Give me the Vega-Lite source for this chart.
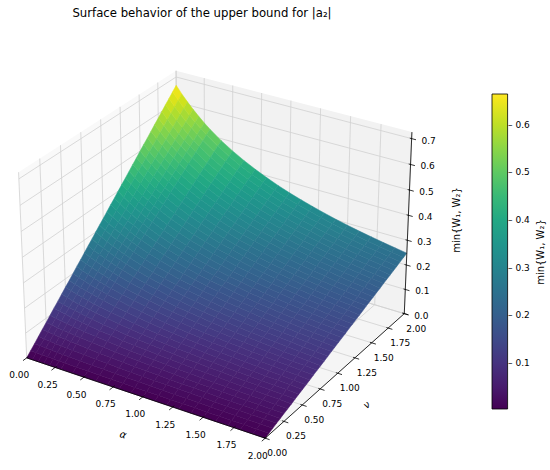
{
  "$schema": "https://vega.github.io/schema/vega-lite/v6.json",
  "description": "3D surface of min{W1,W2} over alpha and nu, drawn as projected polygons",
  "autosize": {"type": "none"},
  "padding": {"left": 0, "right": 0, "top": 28, "bottom": 0},
  "width": 550,
  "height": 442,
  "background": "white",
  "title": {
    "text": "Surface behavior of the upper bound for |a₂|",
    "font": "DejaVu Sans",
    "fontSize": 11.7,
    "fontWeight": "normal",
    "color": "black",
    "anchor": "middle",
    "dx": -73,
    "offset": 8
  },
  "datasets": {
    "surf": [
{"a":0,"n":0,"z":0},{"a":0,"n":0.05,"z":0.017},{"a":0,"n":0.1,"z":0.033},{"a":0,"n":0.15,"z":0.050},{"a":0,"n":0.2,"z":0.067},{"a":0,"n":0.25,"z":0.083},{"a":0,"n":0.3,"z":0.100},{"a":0,"n":0.35,"z":0.117},{"a":0,"n":0.4,"z":0.133},{"a":0,"n":0.45,"z":0.150},{"a":0,"n":0.5,"z":0.167},{"a":0,"n":0.55,"z":0.183},{"a":0,"n":0.6,"z":0.200},{"a":0,"n":0.65,"z":0.217},{"a":0,"n":0.7,"z":0.233},{"a":0,"n":0.75,"z":0.250},{"a":0,"n":0.8,"z":0.267},{"a":0,"n":0.85,"z":0.283},{"a":0,"n":0.9,"z":0.300},{"a":0,"n":0.95,"z":0.317},{"a":0,"n":1,"z":0.333},{"a":0,"n":1.05,"z":0.350},{"a":0,"n":1.1,"z":0.367},{"a":0,"n":1.15,"z":0.383},{"a":0,"n":1.2,"z":0.400},{"a":0,"n":1.25,"z":0.417},{"a":0,"n":1.3,"z":0.433},{"a":0,"n":1.35,"z":0.450},{"a":0,"n":1.4,"z":0.467},{"a":0,"n":1.45,"z":0.483},{"a":0,"n":1.5,"z":0.500},{"a":0,"n":1.55,"z":0.517},{"a":0,"n":1.6,"z":0.533},{"a":0,"n":1.65,"z":0.550},{"a":0,"n":1.7,"z":0.567},{"a":0,"n":1.75,"z":0.583},{"a":0,"n":1.8,"z":0.600},{"a":0,"n":1.85,"z":0.617},{"a":0,"n":1.9,"z":0.633},{"a":0,"n":1.95,"z":0.650},{"a":0,"n":2,"z":0.667},
{"a":0.05,"n":0,"z":0},{"a":0.05,"n":0.05,"z":0.016},{"a":0.05,"n":0.1,"z":0.032},{"a":0.05,"n":0.15,"z":0.048},{"a":0.05,"n":0.2,"z":0.064},{"a":0.05,"n":0.25,"z":0.080},{"a":0.05,"n":0.3,"z":0.096},{"a":0.05,"n":0.35,"z":0.112},{"a":0.05,"n":0.4,"z":0.128},{"a":0.05,"n":0.45,"z":0.144},{"a":0.05,"n":0.5,"z":0.160},{"a":0.05,"n":0.55,"z":0.175},{"a":0.05,"n":0.6,"z":0.191},{"a":0.05,"n":0.65,"z":0.207},{"a":0.05,"n":0.7,"z":0.223},{"a":0.05,"n":0.75,"z":0.239},{"a":0.05,"n":0.8,"z":0.255},{"a":0.05,"n":0.85,"z":0.271},{"a":0.05,"n":0.9,"z":0.287},{"a":0.05,"n":0.95,"z":0.303},{"a":0.05,"n":1,"z":0.319},{"a":0.05,"n":1.05,"z":0.335},{"a":0.05,"n":1.1,"z":0.351},{"a":0.05,"n":1.15,"z":0.367},{"a":0.05,"n":1.2,"z":0.383},{"a":0.05,"n":1.25,"z":0.399},{"a":0.05,"n":1.3,"z":0.415},{"a":0.05,"n":1.35,"z":0.431},{"a":0.05,"n":1.4,"z":0.447},{"a":0.05,"n":1.45,"z":0.463},{"a":0.05,"n":1.5,"z":0.479},{"a":0.05,"n":1.55,"z":0.494},{"a":0.05,"n":1.6,"z":0.510},{"a":0.05,"n":1.65,"z":0.526},{"a":0.05,"n":1.7,"z":0.542},{"a":0.05,"n":1.75,"z":0.558},{"a":0.05,"n":1.8,"z":0.574},{"a":0.05,"n":1.85,"z":0.590},{"a":0.05,"n":1.9,"z":0.606},{"a":0.05,"n":1.95,"z":0.622},{"a":0.05,"n":2,"z":0.638},
{"a":0.1,"n":0,"z":0},{"a":0.1,"n":0.05,"z":0.015},{"a":0.1,"n":0.1,"z":0.031},{"a":0.1,"n":0.15,"z":0.046},{"a":0.1,"n":0.2,"z":0.061},{"a":0.1,"n":0.25,"z":0.076},{"a":0.1,"n":0.3,"z":0.092},{"a":0.1,"n":0.35,"z":0.107},{"a":0.1,"n":0.4,"z":0.122},{"a":0.1,"n":0.45,"z":0.138},{"a":0.1,"n":0.5,"z":0.153},{"a":0.1,"n":0.55,"z":0.168},{"a":0.1,"n":0.6,"z":0.184},{"a":0.1,"n":0.65,"z":0.199},{"a":0.1,"n":0.7,"z":0.214},{"a":0.1,"n":0.75,"z":0.229},{"a":0.1,"n":0.8,"z":0.245},{"a":0.1,"n":0.85,"z":0.260},{"a":0.1,"n":0.9,"z":0.275},{"a":0.1,"n":0.95,"z":0.291},{"a":0.1,"n":1,"z":0.306},{"a":0.1,"n":1.05,"z":0.321},{"a":0.1,"n":1.1,"z":0.336},{"a":0.1,"n":1.15,"z":0.352},{"a":0.1,"n":1.2,"z":0.367},{"a":0.1,"n":1.25,"z":0.382},{"a":0.1,"n":1.3,"z":0.398},{"a":0.1,"n":1.35,"z":0.413},{"a":0.1,"n":1.4,"z":0.428},{"a":0.1,"n":1.45,"z":0.444},{"a":0.1,"n":1.5,"z":0.459},{"a":0.1,"n":1.55,"z":0.474},{"a":0.1,"n":1.6,"z":0.489},{"a":0.1,"n":1.65,"z":0.505},{"a":0.1,"n":1.7,"z":0.520},{"a":0.1,"n":1.75,"z":0.535},{"a":0.1,"n":1.8,"z":0.551},{"a":0.1,"n":1.85,"z":0.566},{"a":0.1,"n":1.9,"z":0.581},{"a":0.1,"n":1.95,"z":0.597},{"a":0.1,"n":2,"z":0.612},
{"a":0.15,"n":0,"z":0},{"a":0.15,"n":0.05,"z":0.015},{"a":0.15,"n":0.1,"z":0.029},{"a":0.15,"n":0.15,"z":0.044},{"a":0.15,"n":0.2,"z":0.059},{"a":0.15,"n":0.25,"z":0.073},{"a":0.15,"n":0.3,"z":0.088},{"a":0.15,"n":0.35,"z":0.103},{"a":0.15,"n":0.4,"z":0.118},{"a":0.15,"n":0.45,"z":0.132},{"a":0.15,"n":0.5,"z":0.147},{"a":0.15,"n":0.55,"z":0.162},{"a":0.15,"n":0.6,"z":0.176},{"a":0.15,"n":0.65,"z":0.191},{"a":0.15,"n":0.7,"z":0.206},{"a":0.15,"n":0.75,"z":0.220},{"a":0.15,"n":0.8,"z":0.235},{"a":0.15,"n":0.85,"z":0.250},{"a":0.15,"n":0.9,"z":0.265},{"a":0.15,"n":0.95,"z":0.279},{"a":0.15,"n":1,"z":0.294},{"a":0.15,"n":1.05,"z":0.309},{"a":0.15,"n":1.1,"z":0.323},{"a":0.15,"n":1.15,"z":0.338},{"a":0.15,"n":1.2,"z":0.353},{"a":0.15,"n":1.25,"z":0.367},{"a":0.15,"n":1.3,"z":0.382},{"a":0.15,"n":1.35,"z":0.397},{"a":0.15,"n":1.4,"z":0.412},{"a":0.15,"n":1.45,"z":0.426},{"a":0.15,"n":1.5,"z":0.441},{"a":0.15,"n":1.55,"z":0.456},{"a":0.15,"n":1.6,"z":0.470},{"a":0.15,"n":1.65,"z":0.485},{"a":0.15,"n":1.7,"z":0.500},{"a":0.15,"n":1.75,"z":0.514},{"a":0.15,"n":1.8,"z":0.529},{"a":0.15,"n":1.85,"z":0.544},{"a":0.15,"n":1.9,"z":0.558},{"a":0.15,"n":1.95,"z":0.573},{"a":0.15,"n":2,"z":0.588},
{"a":0.2,"n":0,"z":0},{"a":0.2,"n":0.05,"z":0.014},{"a":0.2,"n":0.1,"z":0.028},{"a":0.2,"n":0.15,"z":0.042},{"a":0.2,"n":0.2,"z":0.057},{"a":0.2,"n":0.25,"z":0.071},{"a":0.2,"n":0.3,"z":0.085},{"a":0.2,"n":0.35,"z":0.099},{"a":0.2,"n":0.4,"z":0.113},{"a":0.2,"n":0.45,"z":0.127},{"a":0.2,"n":0.5,"z":0.141},{"a":0.2,"n":0.55,"z":0.156},{"a":0.2,"n":0.6,"z":0.170},{"a":0.2,"n":0.65,"z":0.184},{"a":0.2,"n":0.7,"z":0.198},{"a":0.2,"n":0.75,"z":0.212},{"a":0.2,"n":0.8,"z":0.226},{"a":0.2,"n":0.85,"z":0.240},{"a":0.2,"n":0.9,"z":0.255},{"a":0.2,"n":0.95,"z":0.269},{"a":0.2,"n":1,"z":0.283},{"a":0.2,"n":1.05,"z":0.297},{"a":0.2,"n":1.1,"z":0.311},{"a":0.2,"n":1.15,"z":0.325},{"a":0.2,"n":1.2,"z":0.339},{"a":0.2,"n":1.25,"z":0.354},{"a":0.2,"n":1.3,"z":0.368},{"a":0.2,"n":1.35,"z":0.382},{"a":0.2,"n":1.4,"z":0.396},{"a":0.2,"n":1.45,"z":0.410},{"a":0.2,"n":1.5,"z":0.424},{"a":0.2,"n":1.55,"z":0.438},{"a":0.2,"n":1.6,"z":0.453},{"a":0.2,"n":1.65,"z":0.467},{"a":0.2,"n":1.7,"z":0.481},{"a":0.2,"n":1.75,"z":0.495},{"a":0.2,"n":1.8,"z":0.509},{"a":0.2,"n":1.85,"z":0.523},{"a":0.2,"n":1.9,"z":0.538},{"a":0.2,"n":1.95,"z":0.552},{"a":0.2,"n":2,"z":0.566},
{"a":0.25,"n":0,"z":0},{"a":0.25,"n":0.05,"z":0.014},{"a":0.25,"n":0.1,"z":0.027},{"a":0.25,"n":0.15,"z":0.041},{"a":0.25,"n":0.2,"z":0.055},{"a":0.25,"n":0.25,"z":0.068},{"a":0.25,"n":0.3,"z":0.082},{"a":0.25,"n":0.35,"z":0.095},{"a":0.25,"n":0.4,"z":0.109},{"a":0.25,"n":0.45,"z":0.123},{"a":0.25,"n":0.5,"z":0.136},{"a":0.25,"n":0.55,"z":0.150},{"a":0.25,"n":0.6,"z":0.164},{"a":0.25,"n":0.65,"z":0.177},{"a":0.25,"n":0.7,"z":0.191},{"a":0.25,"n":0.75,"z":0.205},{"a":0.25,"n":0.8,"z":0.218},{"a":0.25,"n":0.85,"z":0.232},{"a":0.25,"n":0.9,"z":0.245},{"a":0.25,"n":0.95,"z":0.259},{"a":0.25,"n":1,"z":0.273},{"a":0.25,"n":1.05,"z":0.286},{"a":0.25,"n":1.1,"z":0.300},{"a":0.25,"n":1.15,"z":0.314},{"a":0.25,"n":1.2,"z":0.327},{"a":0.25,"n":1.25,"z":0.341},{"a":0.25,"n":1.3,"z":0.354},{"a":0.25,"n":1.35,"z":0.368},{"a":0.25,"n":1.4,"z":0.382},{"a":0.25,"n":1.45,"z":0.395},{"a":0.25,"n":1.5,"z":0.409},{"a":0.25,"n":1.55,"z":0.423},{"a":0.25,"n":1.6,"z":0.436},{"a":0.25,"n":1.65,"z":0.450},{"a":0.25,"n":1.7,"z":0.464},{"a":0.25,"n":1.75,"z":0.477},{"a":0.25,"n":1.8,"z":0.491},{"a":0.25,"n":1.85,"z":0.504},{"a":0.25,"n":1.9,"z":0.518},{"a":0.25,"n":1.95,"z":0.532},{"a":0.25,"n":2,"z":0.545},
{"a":0.3,"n":0,"z":0},{"a":0.3,"n":0.05,"z":0.013},{"a":0.3,"n":0.1,"z":0.026},{"a":0.3,"n":0.15,"z":0.039},{"a":0.3,"n":0.2,"z":0.053},{"a":0.3,"n":0.25,"z":0.066},{"a":0.3,"n":0.3,"z":0.079},{"a":0.3,"n":0.35,"z":0.092},{"a":0.3,"n":0.4,"z":0.105},{"a":0.3,"n":0.45,"z":0.118},{"a":0.3,"n":0.5,"z":0.132},{"a":0.3,"n":0.55,"z":0.145},{"a":0.3,"n":0.6,"z":0.158},{"a":0.3,"n":0.65,"z":0.171},{"a":0.3,"n":0.7,"z":0.184},{"a":0.3,"n":0.75,"z":0.197},{"a":0.3,"n":0.8,"z":0.211},{"a":0.3,"n":0.85,"z":0.224},{"a":0.3,"n":0.9,"z":0.237},{"a":0.3,"n":0.95,"z":0.250},{"a":0.3,"n":1,"z":0.263},{"a":0.3,"n":1.05,"z":0.276},{"a":0.3,"n":1.1,"z":0.290},{"a":0.3,"n":1.15,"z":0.303},{"a":0.3,"n":1.2,"z":0.316},{"a":0.3,"n":1.25,"z":0.329},{"a":0.3,"n":1.3,"z":0.342},{"a":0.3,"n":1.35,"z":0.355},{"a":0.3,"n":1.4,"z":0.368},{"a":0.3,"n":1.45,"z":0.382},{"a":0.3,"n":1.5,"z":0.395},{"a":0.3,"n":1.55,"z":0.408},{"a":0.3,"n":1.6,"z":0.421},{"a":0.3,"n":1.65,"z":0.434},{"a":0.3,"n":1.7,"z":0.447},{"a":0.3,"n":1.75,"z":0.461},{"a":0.3,"n":1.8,"z":0.474},{"a":0.3,"n":1.85,"z":0.487},{"a":0.3,"n":1.9,"z":0.500},{"a":0.3,"n":1.95,"z":0.513},{"a":0.3,"n":2,"z":0.526},
{"a":0.4,"n":0,"z":0},{"a":0.4,"n":0.05,"z":0.012},{"a":0.4,"n":0.1,"z":0.025},{"a":0.4,"n":0.15,"z":0.037},{"a":0.4,"n":0.2,"z":0.049},{"a":0.4,"n":0.25,"z":0.062},{"a":0.4,"n":0.3,"z":0.074},{"a":0.4,"n":0.35,"z":0.086},{"a":0.4,"n":0.4,"z":0.098},{"a":0.4,"n":0.45,"z":0.111},{"a":0.4,"n":0.5,"z":0.123},{"a":0.4,"n":0.55,"z":0.135},{"a":0.4,"n":0.6,"z":0.148},{"a":0.4,"n":0.65,"z":0.160},{"a":0.4,"n":0.7,"z":0.172},{"a":0.4,"n":0.75,"z":0.185},{"a":0.4,"n":0.8,"z":0.197},{"a":0.4,"n":0.85,"z":0.209},{"a":0.4,"n":0.9,"z":0.222},{"a":0.4,"n":0.95,"z":0.234},{"a":0.4,"n":1,"z":0.246},{"a":0.4,"n":1.05,"z":0.259},{"a":0.4,"n":1.1,"z":0.271},{"a":0.4,"n":1.15,"z":0.283},{"a":0.4,"n":1.2,"z":0.295},{"a":0.4,"n":1.25,"z":0.308},{"a":0.4,"n":1.3,"z":0.320},{"a":0.4,"n":1.35,"z":0.332},{"a":0.4,"n":1.4,"z":0.345},{"a":0.4,"n":1.45,"z":0.357},{"a":0.4,"n":1.5,"z":0.369},{"a":0.4,"n":1.55,"z":0.382},{"a":0.4,"n":1.6,"z":0.394},{"a":0.4,"n":1.65,"z":0.406},{"a":0.4,"n":1.7,"z":0.419},{"a":0.4,"n":1.75,"z":0.431},{"a":0.4,"n":1.8,"z":0.443},{"a":0.4,"n":1.85,"z":0.455},{"a":0.4,"n":1.9,"z":0.468},{"a":0.4,"n":1.95,"z":0.480},{"a":0.4,"n":2,"z":0.492},
{"a":0.5,"n":0,"z":0},{"a":0.5,"n":0.05,"z":0.012},{"a":0.5,"n":0.1,"z":0.023},{"a":0.5,"n":0.15,"z":0.035},{"a":0.5,"n":0.2,"z":0.046},{"a":0.5,"n":0.25,"z":0.058},{"a":0.5,"n":0.3,"z":0.069},{"a":0.5,"n":0.35,"z":0.081},{"a":0.5,"n":0.4,"z":0.093},{"a":0.5,"n":0.45,"z":0.104},{"a":0.5,"n":0.5,"z":0.116},{"a":0.5,"n":0.55,"z":0.127},{"a":0.5,"n":0.6,"z":0.139},{"a":0.5,"n":0.65,"z":0.150},{"a":0.5,"n":0.7,"z":0.162},{"a":0.5,"n":0.75,"z":0.174},{"a":0.5,"n":0.8,"z":0.185},{"a":0.5,"n":0.85,"z":0.197},{"a":0.5,"n":0.9,"z":0.208},{"a":0.5,"n":0.95,"z":0.220},{"a":0.5,"n":1,"z":0.231},{"a":0.5,"n":1.05,"z":0.243},{"a":0.5,"n":1.1,"z":0.255},{"a":0.5,"n":1.15,"z":0.266},{"a":0.5,"n":1.2,"z":0.278},{"a":0.5,"n":1.25,"z":0.289},{"a":0.5,"n":1.3,"z":0.301},{"a":0.5,"n":1.35,"z":0.312},{"a":0.5,"n":1.4,"z":0.324},{"a":0.5,"n":1.45,"z":0.336},{"a":0.5,"n":1.5,"z":0.347},{"a":0.5,"n":1.55,"z":0.359},{"a":0.5,"n":1.6,"z":0.370},{"a":0.5,"n":1.65,"z":0.382},{"a":0.5,"n":1.7,"z":0.393},{"a":0.5,"n":1.75,"z":0.405},{"a":0.5,"n":1.8,"z":0.417},{"a":0.5,"n":1.85,"z":0.428},{"a":0.5,"n":1.9,"z":0.440},{"a":0.5,"n":1.95,"z":0.451},{"a":0.5,"n":2,"z":0.463},
{"a":0.6,"n":0,"z":0},{"a":0.6,"n":0.05,"z":0.011},{"a":0.6,"n":0.1,"z":0.022},{"a":0.6,"n":0.15,"z":0.033},{"a":0.6,"n":0.2,"z":0.044},{"a":0.6,"n":0.25,"z":0.055},{"a":0.6,"n":0.3,"z":0.066},{"a":0.6,"n":0.35,"z":0.076},{"a":0.6,"n":0.4,"z":0.087},{"a":0.6,"n":0.45,"z":0.098},{"a":0.6,"n":0.5,"z":0.109},{"a":0.6,"n":0.55,"z":0.120},{"a":0.6,"n":0.6,"z":0.131},{"a":0.6,"n":0.65,"z":0.142},{"a":0.6,"n":0.7,"z":0.153},{"a":0.6,"n":0.75,"z":0.164},{"a":0.6,"n":0.8,"z":0.175},{"a":0.6,"n":0.85,"z":0.186},{"a":0.6,"n":0.9,"z":0.197},{"a":0.6,"n":0.95,"z":0.207},{"a":0.6,"n":1,"z":0.218},{"a":0.6,"n":1.05,"z":0.229},{"a":0.6,"n":1.1,"z":0.240},{"a":0.6,"n":1.15,"z":0.251},{"a":0.6,"n":1.2,"z":0.262},{"a":0.6,"n":1.25,"z":0.273},{"a":0.6,"n":1.3,"z":0.284},{"a":0.6,"n":1.35,"z":0.295},{"a":0.6,"n":1.4,"z":0.306},{"a":0.6,"n":1.45,"z":0.317},{"a":0.6,"n":1.5,"z":0.328},{"a":0.6,"n":1.55,"z":0.339},{"a":0.6,"n":1.6,"z":0.349},{"a":0.6,"n":1.65,"z":0.360},{"a":0.6,"n":1.7,"z":0.371},{"a":0.6,"n":1.75,"z":0.382},{"a":0.6,"n":1.8,"z":0.393},{"a":0.6,"n":1.85,"z":0.404},{"a":0.6,"n":1.9,"z":0.415},{"a":0.6,"n":1.95,"z":0.426},{"a":0.6,"n":2,"z":0.437},
{"a":0.7,"n":0,"z":0},{"a":0.7,"n":0.05,"z":0.010},{"a":0.7,"n":0.1,"z":0.021},{"a":0.7,"n":0.15,"z":0.031},{"a":0.7,"n":0.2,"z":0.041},{"a":0.7,"n":0.25,"z":0.052},{"a":0.7,"n":0.3,"z":0.062},{"a":0.7,"n":0.35,"z":0.072},{"a":0.7,"n":0.4,"z":0.083},{"a":0.7,"n":0.45,"z":0.093},{"a":0.7,"n":0.5,"z":0.103},{"a":0.7,"n":0.55,"z":0.114},{"a":0.7,"n":0.6,"z":0.124},{"a":0.7,"n":0.65,"z":0.134},{"a":0.7,"n":0.7,"z":0.145},{"a":0.7,"n":0.75,"z":0.155},{"a":0.7,"n":0.8,"z":0.165},{"a":0.7,"n":0.85,"z":0.176},{"a":0.7,"n":0.9,"z":0.186},{"a":0.7,"n":0.95,"z":0.196},{"a":0.7,"n":1,"z":0.207},{"a":0.7,"n":1.05,"z":0.217},{"a":0.7,"n":1.1,"z":0.227},{"a":0.7,"n":1.15,"z":0.238},{"a":0.7,"n":1.2,"z":0.248},{"a":0.7,"n":1.25,"z":0.259},{"a":0.7,"n":1.3,"z":0.269},{"a":0.7,"n":1.35,"z":0.279},{"a":0.7,"n":1.4,"z":0.290},{"a":0.7,"n":1.45,"z":0.300},{"a":0.7,"n":1.5,"z":0.310},{"a":0.7,"n":1.55,"z":0.321},{"a":0.7,"n":1.6,"z":0.331},{"a":0.7,"n":1.65,"z":0.341},{"a":0.7,"n":1.7,"z":0.352},{"a":0.7,"n":1.75,"z":0.362},{"a":0.7,"n":1.8,"z":0.372},{"a":0.7,"n":1.85,"z":0.383},{"a":0.7,"n":1.9,"z":0.393},{"a":0.7,"n":1.95,"z":0.403},{"a":0.7,"n":2,"z":0.414},
{"a":0.8,"n":0,"z":0},{"a":0.8,"n":0.05,"z":0.010},{"a":0.8,"n":0.1,"z":0.020},{"a":0.8,"n":0.15,"z":0.029},{"a":0.8,"n":0.2,"z":0.039},{"a":0.8,"n":0.25,"z":0.049},{"a":0.8,"n":0.3,"z":0.059},{"a":0.8,"n":0.35,"z":0.069},{"a":0.8,"n":0.4,"z":0.079},{"a":0.8,"n":0.45,"z":0.088},{"a":0.8,"n":0.5,"z":0.098},{"a":0.8,"n":0.55,"z":0.108},{"a":0.8,"n":0.6,"z":0.118},{"a":0.8,"n":0.65,"z":0.128},{"a":0.8,"n":0.7,"z":0.137},{"a":0.8,"n":0.75,"z":0.147},{"a":0.8,"n":0.8,"z":0.157},{"a":0.8,"n":0.85,"z":0.167},{"a":0.8,"n":0.9,"z":0.177},{"a":0.8,"n":0.95,"z":0.187},{"a":0.8,"n":1,"z":0.196},{"a":0.8,"n":1.05,"z":0.206},{"a":0.8,"n":1.1,"z":0.216},{"a":0.8,"n":1.15,"z":0.226},{"a":0.8,"n":1.2,"z":0.236},{"a":0.8,"n":1.25,"z":0.246},{"a":0.8,"n":1.3,"z":0.255},{"a":0.8,"n":1.35,"z":0.265},{"a":0.8,"n":1.4,"z":0.275},{"a":0.8,"n":1.45,"z":0.285},{"a":0.8,"n":1.5,"z":0.295},{"a":0.8,"n":1.55,"z":0.304},{"a":0.8,"n":1.6,"z":0.314},{"a":0.8,"n":1.65,"z":0.324},{"a":0.8,"n":1.7,"z":0.334},{"a":0.8,"n":1.75,"z":0.344},{"a":0.8,"n":1.8,"z":0.354},{"a":0.8,"n":1.85,"z":0.363},{"a":0.8,"n":1.9,"z":0.373},{"a":0.8,"n":1.95,"z":0.383},{"a":0.8,"n":2,"z":0.393},
{"a":0.9,"n":0,"z":0},{"a":0.9,"n":0.05,"z":0.009},{"a":0.9,"n":0.1,"z":0.019},{"a":0.9,"n":0.15,"z":0.028},{"a":0.9,"n":0.2,"z":0.037},{"a":0.9,"n":0.25,"z":0.047},{"a":0.9,"n":0.3,"z":0.056},{"a":0.9,"n":0.35,"z":0.065},{"a":0.9,"n":0.4,"z":0.075},{"a":0.9,"n":0.45,"z":0.084},{"a":0.9,"n":0.5,"z":0.094},{"a":0.9,"n":0.55,"z":0.103},{"a":0.9,"n":0.6,"z":0.112},{"a":0.9,"n":0.65,"z":0.122},{"a":0.9,"n":0.7,"z":0.131},{"a":0.9,"n":0.75,"z":0.140},{"a":0.9,"n":0.8,"z":0.150},{"a":0.9,"n":0.85,"z":0.159},{"a":0.9,"n":0.9,"z":0.168},{"a":0.9,"n":0.95,"z":0.178},{"a":0.9,"n":1,"z":0.187},{"a":0.9,"n":1.05,"z":0.196},{"a":0.9,"n":1.1,"z":0.206},{"a":0.9,"n":1.15,"z":0.215},{"a":0.9,"n":1.2,"z":0.225},{"a":0.9,"n":1.25,"z":0.234},{"a":0.9,"n":1.3,"z":0.243},{"a":0.9,"n":1.35,"z":0.253},{"a":0.9,"n":1.4,"z":0.262},{"a":0.9,"n":1.45,"z":0.271},{"a":0.9,"n":1.5,"z":0.281},{"a":0.9,"n":1.55,"z":0.290},{"a":0.9,"n":1.6,"z":0.299},{"a":0.9,"n":1.65,"z":0.309},{"a":0.9,"n":1.7,"z":0.318},{"a":0.9,"n":1.75,"z":0.327},{"a":0.9,"n":1.8,"z":0.337},{"a":0.9,"n":1.85,"z":0.346},{"a":0.9,"n":1.9,"z":0.355},{"a":0.9,"n":1.95,"z":0.365},{"a":0.9,"n":2,"z":0.374},
{"a":1,"n":0,"z":0},{"a":1,"n":0.05,"z":0.009},{"a":1,"n":0.1,"z":0.018},{"a":1,"n":0.15,"z":0.027},{"a":1,"n":0.2,"z":0.036},{"a":1,"n":0.25,"z":0.045},{"a":1,"n":0.3,"z":0.054},{"a":1,"n":0.35,"z":0.063},{"a":1,"n":0.4,"z":0.071},{"a":1,"n":0.45,"z":0.080},{"a":1,"n":0.5,"z":0.089},{"a":1,"n":0.55,"z":0.098},{"a":1,"n":0.6,"z":0.107},{"a":1,"n":0.65,"z":0.116},{"a":1,"n":0.7,"z":0.125},{"a":1,"n":0.75,"z":0.134},{"a":1,"n":0.8,"z":0.143},{"a":1,"n":0.85,"z":0.152},{"a":1,"n":0.9,"z":0.161},{"a":1,"n":0.95,"z":0.170},{"a":1,"n":1,"z":0.179},{"a":1,"n":1.05,"z":0.188},{"a":1,"n":1.1,"z":0.196},{"a":1,"n":1.15,"z":0.205},{"a":1,"n":1.2,"z":0.214},{"a":1,"n":1.25,"z":0.223},{"a":1,"n":1.3,"z":0.232},{"a":1,"n":1.35,"z":0.241},{"a":1,"n":1.4,"z":0.250},{"a":1,"n":1.45,"z":0.259},{"a":1,"n":1.5,"z":0.268},{"a":1,"n":1.55,"z":0.277},{"a":1,"n":1.6,"z":0.286},{"a":1,"n":1.65,"z":0.295},{"a":1,"n":1.7,"z":0.304},{"a":1,"n":1.75,"z":0.313},{"a":1,"n":1.8,"z":0.321},{"a":1,"n":1.85,"z":0.330},{"a":1,"n":1.9,"z":0.339},{"a":1,"n":1.95,"z":0.348},{"a":1,"n":2,"z":0.357},
{"a":1.1,"n":0,"z":0},{"a":1.1,"n":0.05,"z":0.009},{"a":1.1,"n":0.1,"z":0.017},{"a":1.1,"n":0.15,"z":0.026},{"a":1.1,"n":0.2,"z":0.034},{"a":1.1,"n":0.25,"z":0.043},{"a":1.1,"n":0.3,"z":0.051},{"a":1.1,"n":0.35,"z":0.060},{"a":1.1,"n":0.4,"z":0.068},{"a":1.1,"n":0.45,"z":0.077},{"a":1.1,"n":0.5,"z":0.086},{"a":1.1,"n":0.55,"z":0.094},{"a":1.1,"n":0.6,"z":0.103},{"a":1.1,"n":0.65,"z":0.111},{"a":1.1,"n":0.7,"z":0.120},{"a":1.1,"n":0.75,"z":0.128},{"a":1.1,"n":0.8,"z":0.137},{"a":1.1,"n":0.85,"z":0.145},{"a":1.1,"n":0.9,"z":0.154},{"a":1.1,"n":0.95,"z":0.162},{"a":1.1,"n":1,"z":0.171},{"a":1.1,"n":1.05,"z":0.180},{"a":1.1,"n":1.1,"z":0.188},{"a":1.1,"n":1.15,"z":0.197},{"a":1.1,"n":1.2,"z":0.205},{"a":1.1,"n":1.25,"z":0.214},{"a":1.1,"n":1.3,"z":0.222},{"a":1.1,"n":1.35,"z":0.231},{"a":1.1,"n":1.4,"z":0.239},{"a":1.1,"n":1.45,"z":0.248},{"a":1.1,"n":1.5,"z":0.257},{"a":1.1,"n":1.55,"z":0.265},{"a":1.1,"n":1.6,"z":0.274},{"a":1.1,"n":1.65,"z":0.282},{"a":1.1,"n":1.7,"z":0.291},{"a":1.1,"n":1.75,"z":0.299},{"a":1.1,"n":1.8,"z":0.308},{"a":1.1,"n":1.85,"z":0.316},{"a":1.1,"n":1.9,"z":0.325},{"a":1.1,"n":1.95,"z":0.333},{"a":1.1,"n":2,"z":0.342},
{"a":1.2,"n":0,"z":0},{"a":1.2,"n":0.05,"z":0.008},{"a":1.2,"n":0.1,"z":0.016},{"a":1.2,"n":0.15,"z":0.025},{"a":1.2,"n":0.2,"z":0.033},{"a":1.2,"n":0.25,"z":0.041},{"a":1.2,"n":0.3,"z":0.049},{"a":1.2,"n":0.35,"z":0.057},{"a":1.2,"n":0.4,"z":0.066},{"a":1.2,"n":0.45,"z":0.074},{"a":1.2,"n":0.5,"z":0.082},{"a":1.2,"n":0.55,"z":0.090},{"a":1.2,"n":0.6,"z":0.098},{"a":1.2,"n":0.65,"z":0.107},{"a":1.2,"n":0.7,"z":0.115},{"a":1.2,"n":0.75,"z":0.123},{"a":1.2,"n":0.8,"z":0.131},{"a":1.2,"n":0.85,"z":0.139},{"a":1.2,"n":0.9,"z":0.148},{"a":1.2,"n":0.95,"z":0.156},{"a":1.2,"n":1,"z":0.164},{"a":1.2,"n":1.05,"z":0.172},{"a":1.2,"n":1.1,"z":0.180},{"a":1.2,"n":1.15,"z":0.188},{"a":1.2,"n":1.2,"z":0.197},{"a":1.2,"n":1.25,"z":0.205},{"a":1.2,"n":1.3,"z":0.213},{"a":1.2,"n":1.35,"z":0.221},{"a":1.2,"n":1.4,"z":0.229},{"a":1.2,"n":1.45,"z":0.238},{"a":1.2,"n":1.5,"z":0.246},{"a":1.2,"n":1.55,"z":0.254},{"a":1.2,"n":1.6,"z":0.262},{"a":1.2,"n":1.65,"z":0.270},{"a":1.2,"n":1.7,"z":0.279},{"a":1.2,"n":1.75,"z":0.287},{"a":1.2,"n":1.8,"z":0.295},{"a":1.2,"n":1.85,"z":0.303},{"a":1.2,"n":1.9,"z":0.311},{"a":1.2,"n":1.95,"z":0.320},{"a":1.2,"n":2,"z":0.328},
{"a":1.3,"n":0,"z":0},{"a":1.3,"n":0.05,"z":0.008},{"a":1.3,"n":0.1,"z":0.016},{"a":1.3,"n":0.15,"z":0.024},{"a":1.3,"n":0.2,"z":0.032},{"a":1.3,"n":0.25,"z":0.039},{"a":1.3,"n":0.3,"z":0.047},{"a":1.3,"n":0.35,"z":0.055},{"a":1.3,"n":0.4,"z":0.063},{"a":1.3,"n":0.45,"z":0.071},{"a":1.3,"n":0.5,"z":0.079},{"a":1.3,"n":0.55,"z":0.087},{"a":1.3,"n":0.6,"z":0.095},{"a":1.3,"n":0.65,"z":0.102},{"a":1.3,"n":0.7,"z":0.110},{"a":1.3,"n":0.75,"z":0.118},{"a":1.3,"n":0.8,"z":0.126},{"a":1.3,"n":0.85,"z":0.134},{"a":1.3,"n":0.9,"z":0.142},{"a":1.3,"n":0.95,"z":0.150},{"a":1.3,"n":1,"z":0.158},{"a":1.3,"n":1.05,"z":0.165},{"a":1.3,"n":1.1,"z":0.173},{"a":1.3,"n":1.15,"z":0.181},{"a":1.3,"n":1.2,"z":0.189},{"a":1.3,"n":1.25,"z":0.197},{"a":1.3,"n":1.3,"z":0.205},{"a":1.3,"n":1.35,"z":0.213},{"a":1.3,"n":1.4,"z":0.221},{"a":1.3,"n":1.45,"z":0.228},{"a":1.3,"n":1.5,"z":0.236},{"a":1.3,"n":1.55,"z":0.244},{"a":1.3,"n":1.6,"z":0.252},{"a":1.3,"n":1.65,"z":0.260},{"a":1.3,"n":1.7,"z":0.268},{"a":1.3,"n":1.75,"z":0.276},{"a":1.3,"n":1.8,"z":0.284},{"a":1.3,"n":1.85,"z":0.291},{"a":1.3,"n":1.9,"z":0.299},{"a":1.3,"n":1.95,"z":0.307},{"a":1.3,"n":2,"z":0.315},
{"a":1.4,"n":0,"z":0},{"a":1.4,"n":0.05,"z":0.008},{"a":1.4,"n":0.1,"z":0.015},{"a":1.4,"n":0.15,"z":0.023},{"a":1.4,"n":0.2,"z":0.030},{"a":1.4,"n":0.25,"z":0.038},{"a":1.4,"n":0.3,"z":0.045},{"a":1.4,"n":0.35,"z":0.053},{"a":1.4,"n":0.4,"z":0.061},{"a":1.4,"n":0.45,"z":0.068},{"a":1.4,"n":0.5,"z":0.076},{"a":1.4,"n":0.55,"z":0.083},{"a":1.4,"n":0.6,"z":0.091},{"a":1.4,"n":0.65,"z":0.099},{"a":1.4,"n":0.7,"z":0.106},{"a":1.4,"n":0.75,"z":0.114},{"a":1.4,"n":0.8,"z":0.121},{"a":1.4,"n":0.85,"z":0.129},{"a":1.4,"n":0.9,"z":0.136},{"a":1.4,"n":0.95,"z":0.144},{"a":1.4,"n":1,"z":0.152},{"a":1.4,"n":1.05,"z":0.159},{"a":1.4,"n":1.1,"z":0.167},{"a":1.4,"n":1.15,"z":0.174},{"a":1.4,"n":1.2,"z":0.182},{"a":1.4,"n":1.25,"z":0.190},{"a":1.4,"n":1.3,"z":0.197},{"a":1.4,"n":1.35,"z":0.205},{"a":1.4,"n":1.4,"z":0.212},{"a":1.4,"n":1.45,"z":0.220},{"a":1.4,"n":1.5,"z":0.227},{"a":1.4,"n":1.55,"z":0.235},{"a":1.4,"n":1.6,"z":0.243},{"a":1.4,"n":1.65,"z":0.250},{"a":1.4,"n":1.7,"z":0.258},{"a":1.4,"n":1.75,"z":0.265},{"a":1.4,"n":1.8,"z":0.273},{"a":1.4,"n":1.85,"z":0.280},{"a":1.4,"n":1.9,"z":0.288},{"a":1.4,"n":1.95,"z":0.296},{"a":1.4,"n":2,"z":0.303},
{"a":1.5,"n":0,"z":0},{"a":1.5,"n":0.05,"z":0.007},{"a":1.5,"n":0.1,"z":0.015},{"a":1.5,"n":0.15,"z":0.022},{"a":1.5,"n":0.2,"z":0.029},{"a":1.5,"n":0.25,"z":0.037},{"a":1.5,"n":0.3,"z":0.044},{"a":1.5,"n":0.35,"z":0.051},{"a":1.5,"n":0.4,"z":0.058},{"a":1.5,"n":0.45,"z":0.066},{"a":1.5,"n":0.5,"z":0.073},{"a":1.5,"n":0.55,"z":0.080},{"a":1.5,"n":0.6,"z":0.088},{"a":1.5,"n":0.65,"z":0.095},{"a":1.5,"n":0.7,"z":0.102},{"a":1.5,"n":0.75,"z":0.110},{"a":1.5,"n":0.8,"z":0.117},{"a":1.5,"n":0.85,"z":0.124},{"a":1.5,"n":0.9,"z":0.131},{"a":1.5,"n":0.95,"z":0.139},{"a":1.5,"n":1,"z":0.146},{"a":1.5,"n":1.05,"z":0.153},{"a":1.5,"n":1.1,"z":0.161},{"a":1.5,"n":1.15,"z":0.168},{"a":1.5,"n":1.2,"z":0.175},{"a":1.5,"n":1.25,"z":0.183},{"a":1.5,"n":1.3,"z":0.190},{"a":1.5,"n":1.35,"z":0.197},{"a":1.5,"n":1.4,"z":0.205},{"a":1.5,"n":1.45,"z":0.212},{"a":1.5,"n":1.5,"z":0.219},{"a":1.5,"n":1.55,"z":0.226},{"a":1.5,"n":1.6,"z":0.234},{"a":1.5,"n":1.65,"z":0.241},{"a":1.5,"n":1.7,"z":0.248},{"a":1.5,"n":1.75,"z":0.256},{"a":1.5,"n":1.8,"z":0.263},{"a":1.5,"n":1.85,"z":0.270},{"a":1.5,"n":1.9,"z":0.278},{"a":1.5,"n":1.95,"z":0.285},{"a":1.5,"n":2,"z":0.292},
{"a":1.6,"n":0,"z":0},{"a":1.6,"n":0.05,"z":0.007},{"a":1.6,"n":0.1,"z":0.014},{"a":1.6,"n":0.15,"z":0.021},{"a":1.6,"n":0.2,"z":0.028},{"a":1.6,"n":0.25,"z":0.035},{"a":1.6,"n":0.3,"z":0.042},{"a":1.6,"n":0.35,"z":0.049},{"a":1.6,"n":0.4,"z":0.056},{"a":1.6,"n":0.45,"z":0.063},{"a":1.6,"n":0.5,"z":0.071},{"a":1.6,"n":0.55,"z":0.078},{"a":1.6,"n":0.6,"z":0.085},{"a":1.6,"n":0.65,"z":0.092},{"a":1.6,"n":0.7,"z":0.099},{"a":1.6,"n":0.75,"z":0.106},{"a":1.6,"n":0.8,"z":0.113},{"a":1.6,"n":0.85,"z":0.120},{"a":1.6,"n":0.9,"z":0.127},{"a":1.6,"n":0.95,"z":0.134},{"a":1.6,"n":1,"z":0.141},{"a":1.6,"n":1.05,"z":0.148},{"a":1.6,"n":1.1,"z":0.155},{"a":1.6,"n":1.15,"z":0.162},{"a":1.6,"n":1.2,"z":0.169},{"a":1.6,"n":1.25,"z":0.176},{"a":1.6,"n":1.3,"z":0.183},{"a":1.6,"n":1.35,"z":0.190},{"a":1.6,"n":1.4,"z":0.198},{"a":1.6,"n":1.45,"z":0.205},{"a":1.6,"n":1.5,"z":0.212},{"a":1.6,"n":1.55,"z":0.219},{"a":1.6,"n":1.6,"z":0.226},{"a":1.6,"n":1.65,"z":0.233},{"a":1.6,"n":1.7,"z":0.240},{"a":1.6,"n":1.75,"z":0.247},{"a":1.6,"n":1.8,"z":0.254},{"a":1.6,"n":1.85,"z":0.261},{"a":1.6,"n":1.9,"z":0.268},{"a":1.6,"n":1.95,"z":0.275},{"a":1.6,"n":2,"z":0.282},
{"a":1.7,"n":0,"z":0},{"a":1.7,"n":0.05,"z":0.007},{"a":1.7,"n":0.1,"z":0.014},{"a":1.7,"n":0.15,"z":0.020},{"a":1.7,"n":0.2,"z":0.027},{"a":1.7,"n":0.25,"z":0.034},{"a":1.7,"n":0.3,"z":0.041},{"a":1.7,"n":0.35,"z":0.048},{"a":1.7,"n":0.4,"z":0.055},{"a":1.7,"n":0.45,"z":0.061},{"a":1.7,"n":0.5,"z":0.068},{"a":1.7,"n":0.55,"z":0.075},{"a":1.7,"n":0.6,"z":0.082},{"a":1.7,"n":0.65,"z":0.089},{"a":1.7,"n":0.7,"z":0.095},{"a":1.7,"n":0.75,"z":0.102},{"a":1.7,"n":0.8,"z":0.109},{"a":1.7,"n":0.85,"z":0.116},{"a":1.7,"n":0.9,"z":0.123},{"a":1.7,"n":0.95,"z":0.129},{"a":1.7,"n":1,"z":0.136},{"a":1.7,"n":1.05,"z":0.143},{"a":1.7,"n":1.1,"z":0.150},{"a":1.7,"n":1.15,"z":0.157},{"a":1.7,"n":1.2,"z":0.164},{"a":1.7,"n":1.25,"z":0.170},{"a":1.7,"n":1.3,"z":0.177},{"a":1.7,"n":1.35,"z":0.184},{"a":1.7,"n":1.4,"z":0.191},{"a":1.7,"n":1.45,"z":0.198},{"a":1.7,"n":1.5,"z":0.204},{"a":1.7,"n":1.55,"z":0.211},{"a":1.7,"n":1.6,"z":0.218},{"a":1.7,"n":1.65,"z":0.225},{"a":1.7,"n":1.7,"z":0.232},{"a":1.7,"n":1.75,"z":0.239},{"a":1.7,"n":1.8,"z":0.245},{"a":1.7,"n":1.85,"z":0.252},{"a":1.7,"n":1.9,"z":0.259},{"a":1.7,"n":1.95,"z":0.266},{"a":1.7,"n":2,"z":0.273},
{"a":1.8,"n":0,"z":0},{"a":1.8,"n":0.05,"z":0.007},{"a":1.8,"n":0.1,"z":0.013},{"a":1.8,"n":0.15,"z":0.020},{"a":1.8,"n":0.2,"z":0.026},{"a":1.8,"n":0.25,"z":0.033},{"a":1.8,"n":0.3,"z":0.040},{"a":1.8,"n":0.35,"z":0.046},{"a":1.8,"n":0.4,"z":0.053},{"a":1.8,"n":0.45,"z":0.059},{"a":1.8,"n":0.5,"z":0.066},{"a":1.8,"n":0.55,"z":0.073},{"a":1.8,"n":0.6,"z":0.079},{"a":1.8,"n":0.65,"z":0.086},{"a":1.8,"n":0.7,"z":0.092},{"a":1.8,"n":0.75,"z":0.099},{"a":1.8,"n":0.8,"z":0.106},{"a":1.8,"n":0.85,"z":0.112},{"a":1.8,"n":0.9,"z":0.119},{"a":1.8,"n":0.95,"z":0.125},{"a":1.8,"n":1,"z":0.132},{"a":1.8,"n":1.05,"z":0.139},{"a":1.8,"n":1.1,"z":0.145},{"a":1.8,"n":1.15,"z":0.152},{"a":1.8,"n":1.2,"z":0.158},{"a":1.8,"n":1.25,"z":0.165},{"a":1.8,"n":1.3,"z":0.172},{"a":1.8,"n":1.35,"z":0.178},{"a":1.8,"n":1.4,"z":0.185},{"a":1.8,"n":1.45,"z":0.191},{"a":1.8,"n":1.5,"z":0.198},{"a":1.8,"n":1.55,"z":0.205},{"a":1.8,"n":1.6,"z":0.211},{"a":1.8,"n":1.65,"z":0.218},{"a":1.8,"n":1.7,"z":0.224},{"a":1.8,"n":1.75,"z":0.231},{"a":1.8,"n":1.8,"z":0.238},{"a":1.8,"n":1.85,"z":0.244},{"a":1.8,"n":1.9,"z":0.251},{"a":1.8,"n":1.95,"z":0.257},{"a":1.8,"n":2,"z":0.264},
{"a":1.9,"n":0,"z":0},{"a":1.9,"n":0.05,"z":0.006},{"a":1.9,"n":0.1,"z":0.013},{"a":1.9,"n":0.15,"z":0.019},{"a":1.9,"n":0.2,"z":0.026},{"a":1.9,"n":0.25,"z":0.032},{"a":1.9,"n":0.3,"z":0.038},{"a":1.9,"n":0.35,"z":0.045},{"a":1.9,"n":0.4,"z":0.051},{"a":1.9,"n":0.45,"z":0.058},{"a":1.9,"n":0.5,"z":0.064},{"a":1.9,"n":0.55,"z":0.070},{"a":1.9,"n":0.6,"z":0.077},{"a":1.9,"n":0.65,"z":0.083},{"a":1.9,"n":0.7,"z":0.090},{"a":1.9,"n":0.75,"z":0.096},{"a":1.9,"n":0.8,"z":0.102},{"a":1.9,"n":0.85,"z":0.109},{"a":1.9,"n":0.9,"z":0.115},{"a":1.9,"n":0.95,"z":0.122},{"a":1.9,"n":1,"z":0.128},{"a":1.9,"n":1.05,"z":0.134},{"a":1.9,"n":1.1,"z":0.141},{"a":1.9,"n":1.15,"z":0.147},{"a":1.9,"n":1.2,"z":0.153},{"a":1.9,"n":1.25,"z":0.160},{"a":1.9,"n":1.3,"z":0.166},{"a":1.9,"n":1.35,"z":0.173},{"a":1.9,"n":1.4,"z":0.179},{"a":1.9,"n":1.45,"z":0.185},{"a":1.9,"n":1.5,"z":0.192},{"a":1.9,"n":1.55,"z":0.198},{"a":1.9,"n":1.6,"z":0.205},{"a":1.9,"n":1.65,"z":0.211},{"a":1.9,"n":1.7,"z":0.217},{"a":1.9,"n":1.75,"z":0.224},{"a":1.9,"n":1.8,"z":0.230},{"a":1.9,"n":1.85,"z":0.237},{"a":1.9,"n":1.9,"z":0.243},{"a":1.9,"n":1.95,"z":0.249},{"a":1.9,"n":2,"z":0.256},
{"a":2,"n":0,"z":0},{"a":2,"n":0.05,"z":0.006},{"a":2,"n":0.1,"z":0.012},{"a":2,"n":0.15,"z":0.019},{"a":2,"n":0.2,"z":0.025},{"a":2,"n":0.25,"z":0.031},{"a":2,"n":0.3,"z":0.037},{"a":2,"n":0.35,"z":0.043},{"a":2,"n":0.4,"z":0.050},{"a":2,"n":0.45,"z":0.056},{"a":2,"n":0.5,"z":0.062},{"a":2,"n":0.55,"z":0.068},{"a":2,"n":0.6,"z":0.074},{"a":2,"n":0.65,"z":0.081},{"a":2,"n":0.7,"z":0.087},{"a":2,"n":0.75,"z":0.093},{"a":2,"n":0.8,"z":0.099},{"a":2,"n":0.85,"z":0.105},{"a":2,"n":0.9,"z":0.112},{"a":2,"n":0.95,"z":0.118},{"a":2,"n":1,"z":0.124},{"a":2,"n":1.05,"z":0.130},{"a":2,"n":1.1,"z":0.136},{"a":2,"n":1.15,"z":0.143},{"a":2,"n":1.2,"z":0.149},{"a":2,"n":1.25,"z":0.155},{"a":2,"n":1.3,"z":0.161},{"a":2,"n":1.35,"z":0.167},{"a":2,"n":1.4,"z":0.174},{"a":2,"n":1.45,"z":0.180},{"a":2,"n":1.5,"z":0.186},{"a":2,"n":1.55,"z":0.192},{"a":2,"n":1.6,"z":0.198},{"a":2,"n":1.65,"z":0.205},{"a":2,"n":1.7,"z":0.211},{"a":2,"n":1.75,"z":0.217},{"a":2,"n":1.8,"z":0.223},{"a":2,"n":1.85,"z":0.229},{"a":2,"n":1.9,"z":0.236},{"a":2,"n":1.95,"z":0.242},{"a":2,"n":2,"z":0.248}
    ],
    "panes": [
      {"p":"z","o":0,"a":0,"n":0,"z":0},{"p":"z","o":1,"a":2,"n":0,"z":0},{"p":"z","o":2,"a":2,"n":2,"z":0},{"p":"z","o":3,"a":0,"n":2,"z":0},
      {"p":"x","o":0,"a":0,"n":0,"z":0},{"p":"x","o":1,"a":0,"n":2,"z":0},{"p":"x","o":2,"a":0,"n":2,"z":0.725},{"p":"x","o":3,"a":0,"n":0,"z":0.725},
      {"p":"y","o":0,"a":0,"n":2,"z":0},{"p":"y","o":1,"a":2,"n":2,"z":0},{"p":"y","o":2,"a":2,"n":2,"z":0.725},{"p":"y","o":3,"a":0,"n":2,"z":0.725}
    ],
    "ticks": [
      {"g":"a","t":0},{"g":"a","t":0.25},{"g":"a","t":0.5},{"g":"a","t":0.75},{"g":"a","t":1},{"g":"a","t":1.25},{"g":"a","t":1.5},{"g":"a","t":1.75},{"g":"a","t":2},
      {"g":"n","t":0},{"g":"n","t":0.25},{"g":"n","t":0.5},{"g":"n","t":0.75},{"g":"n","t":1},{"g":"n","t":1.25},{"g":"n","t":1.5},{"g":"n","t":1.75},{"g":"n","t":2},
      {"g":"z","t":0},{"g":"z","t":0.1},{"g":"z","t":0.2},{"g":"z","t":0.3},{"g":"z","t":0.4},{"g":"z","t":0.5},{"g":"z","t":0.6},{"g":"z","t":0.7}
    ],
    "edges": [
      {"o":0,"a":0,"n":0,"z":0},{"o":1,"a":2,"n":0,"z":0},{"o":2,"a":2,"n":2,"z":0},{"o":3,"a":2,"n":2,"z":0.725}
    ]
  },
  "encoding": {
    "x": {"field": "sx", "type": "quantitative", "scale": {"domain": [-3.1256, 4.7439], "nice": false, "zero": false}, "axis": null},
    "y": {"field": "sy", "type": "quantitative", "scale": {"domain": [-3.2256, 3.125], "nice": false, "zero": false}, "axis": null}
  },
  "layer": [
    {
      "data": {"name": "panes"},
      "transform": [
        {"calculate": "35*(1.696*datum.a+1.0598*datum.n-2.7558)/(35.1568-0.9314*datum.a+1.4904*datum.n-1.9746*datum.z)", "as": "sx"},
        {"calculate": "35*(-0.5058*datum.a+0.8094*datum.n+3.6364*datum.z-1.6218)/(35.1568-0.9314*datum.a+1.4904*datum.n-1.9746*datum.z)", "as": "sy"}
      ],
      "mark": {"type": "line", "interpolate": "linear-closed", "strokeOpacity": 0},
      "encoding": {
        "detail": {"field": "p"},
        "order": {"field": "o"},
        "fill": {"field": "p", "type": "nominal", "scale": {"domain": ["x", "y", "z"], "range": ["#f9f9f9", "#f2f2f2", "#f5f5f5"]}, "legend": null}
      }
    },
    {
      "data": {"name": "ticks"},
      "transform": [
        {"calculate": "[0,1,2]", "as": "v"},
        {"flatten": ["v"]},
        {"calculate": "datum.g=='a' ? datum.t : datum.g=='n' ? (datum.v==0 ? 2 : 0) : (datum.v==2 ? 2 : 0)", "as": "a"},
        {"calculate": "datum.g=='n' ? datum.t : (datum.v==0 ? 0 : 2)", "as": "n"},
        {"calculate": "datum.g=='z' ? datum.t : (datum.v==2 ? 0.725 : 0)", "as": "z"},
        {"calculate": "datum.g + datum.t", "as": "gid"},
        {"calculate": "35*(1.696*datum.a+1.0598*datum.n-2.7558)/(35.1568-0.9314*datum.a+1.4904*datum.n-1.9746*datum.z)", "as": "sx"},
        {"calculate": "35*(-0.5058*datum.a+0.8094*datum.n+3.6364*datum.z-1.6218)/(35.1568-0.9314*datum.a+1.4904*datum.n-1.9746*datum.z)", "as": "sy"}
      ],
      "mark": {"type": "line", "stroke": "#d0d0d0", "strokeWidth": 0.8},
      "encoding": {"detail": {"field": "gid"}, "order": {"field": "v"}}
    },
    {
      "data": {"name": "surf"},
      "transform": [
        {"calculate": "[0,1,2,3]", "as": "k"},
        {"flatten": ["k"]},
        {"calculate": "indexof([0,0.05,0.1,0.15,0.2,0.25,0.3,0.4,0.5,0.6,0.7,0.8,0.9,1,1.1,1.2,1.3,1.4,1.5,1.6,1.7,1.8,1.9,2], datum.a) - (datum.k==1 || datum.k==2 ? 1 : 0)", "as": "ci"},
        {"calculate": "round(datum.n*20) - (datum.k>=2 ? 1 : 0)", "as": "cj"},
        {"filter": "datum.ci>=0 && datum.ci<23 && datum.cj>=0 && datum.cj<40"},
        {"calculate": "datum.ci*100 + datum.cj", "as": "cell"},
        {"joinaggregate": [{"op": "mean", "field": "z", "as": "cz"}], "groupby": ["cell"]},
        {"calculate": "35*(1.696*datum.a+1.0598*datum.n-2.7558)/(35.1568-0.9314*datum.a+1.4904*datum.n-1.9746*datum.z)", "as": "sx"},
        {"calculate": "35*(-0.5058*datum.a+0.8094*datum.n+3.6364*datum.z-1.6218)/(35.1568-0.9314*datum.a+1.4904*datum.n-1.9746*datum.z)", "as": "sy"}
      ],
      "mark": {"type": "line", "interpolate": "linear-closed", "strokeWidth": 0.5},
      "encoding": {
        "detail": {"field": "cell"},
        "order": {"field": "k"},
        "fill": {
          "field": "cz",
          "type": "quantitative",
          "scale": {"scheme": "viridis", "domain": [0.004, 0.664], "nice": false, "zero": false},
          "legend": null
        },
        "stroke": {
          "field": "cz",
          "type": "quantitative",
          "scale": {"scheme": "viridis", "domain": [0.004, 0.664], "nice": false, "zero": false},
          "legend": null
        }
      }
    },
    {
      "data": {"values": [{"cz": 0.004}, {"cz": 0.664}]},
      "mark": {"type": "point", "filled": true, "size": 0, "opacity": 0},
      "encoding": {
        "x": {"datum": 0},
        "y": {"datum": 0},
        "fill": {
          "field": "cz",
          "type": "quantitative",
          "scale": {"scheme": "viridis", "domain": [0.004, 0.664], "nice": false, "zero": false},
          "legend": {
            "type": "gradient",
            "orient": "none",
            "legendX": 492,
            "legendY": 66,
            "direction": "vertical",
            "padding": 0,
            "gradientLength": 315,
            "gradientThickness": 15.6,
            "gradientOpacity": 1,
            "gradientStrokeColor": "black",
            "gradientStrokeWidth": 0.8,
            "values": [0.1, 0.2, 0.3, 0.4, 0.5, 0.6],
            "format": ".1f",
            "labelExpr": "'– ' + datum.label",
            "labelFont": "DejaVu Sans",
            "labelFontSize": 9,
            "labelColor": "black",
            "labelOffset": 0.5,
            "labelOverlap": false,
            "title": "min{W₁, W₂}",
            "titleOrient": "right",
            "titleAnchor": "middle",
            "titleAlign": "center",
            "titleBaseline": "top",
            "titleFont": "DejaVu Sans",
            "titleFontSize": 10,
            "titleFontWeight": "normal",
            "titleColor": "black",
            "titlePadding": 6,
            "encode": {"title": {"update": {"angle": {"value": 270}}}}
          }
        }
      }
    },
    {
      "data": {"name": "edges"},
      "transform": [
        {"calculate": "35*(1.696*datum.a+1.0598*datum.n-2.7558)/(35.1568-0.9314*datum.a+1.4904*datum.n-1.9746*datum.z)", "as": "sx"},
        {"calculate": "35*(-0.5058*datum.a+0.8094*datum.n+3.6364*datum.z-1.6218)/(35.1568-0.9314*datum.a+1.4904*datum.n-1.9746*datum.z)", "as": "sy"}
      ],
      "mark": {"type": "line", "stroke": "black", "strokeWidth": 0.8},
      "encoding": {"order": {"field": "o"}}
    },
    {
      "data": {"name": "ticks"},
      "transform": [
        {"calculate": "[0,1]", "as": "v"},
        {"flatten": ["v"]},
        {"calculate": "datum.g=='a' ? datum.t : (datum.v==0 ? 2.035 : 1.985)", "as": "a"},
        {"calculate": "datum.g=='a' ? (datum.v==0 ? -0.045 : 0.02) : datum.g=='n' ? datum.t : 2", "as": "n"},
        {"calculate": "datum.g=='z' ? datum.t : 0", "as": "z"},
        {"calculate": "datum.g + datum.t", "as": "gid"},
        {"calculate": "35*(1.696*datum.a+1.0598*datum.n-2.7558)/(35.1568-0.9314*datum.a+1.4904*datum.n-1.9746*datum.z)", "as": "sx"},
        {"calculate": "35*(-0.5058*datum.a+0.8094*datum.n+3.6364*datum.z-1.6218)/(35.1568-0.9314*datum.a+1.4904*datum.n-1.9746*datum.z)", "as": "sy"}
      ],
      "mark": {"type": "line", "stroke": "black", "strokeWidth": 0.8},
      "encoding": {"detail": {"field": "gid"}, "order": {"field": "v"}}
    },
    {
      "data": {"name": "ticks"},
      "transform": [
        {"filter": "datum.g=='a'"},
        {"calculate": "datum.t", "as": "a"},
        {"calculate": "0", "as": "n"},
        {"calculate": "0", "as": "z"},
        {"calculate": "35*(1.696*datum.a+1.0598*datum.n-2.7558)/(35.1568-0.9314*datum.a+1.4904*datum.n-1.9746*datum.z)", "as": "sx"},
        {"calculate": "35*(-0.5058*datum.a+0.8094*datum.n+3.6364*datum.z-1.6218)/(35.1568-0.9314*datum.a+1.4904*datum.n-1.9746*datum.z)", "as": "sy"}
      ],
      "mark": {"type": "text", "font": "DejaVu Sans", "fontSize": 9, "color": "black", "align": "center", "baseline": "middle", "dx": -7.5, "dy": 17.5},
      "encoding": {"text": {"field": "t", "type": "quantitative", "format": ".2f"}}
    },
    {
      "data": {"name": "ticks"},
      "transform": [
        {"filter": "datum.g=='n'"},
        {"calculate": "2", "as": "a"},
        {"calculate": "datum.t", "as": "n"},
        {"calculate": "0", "as": "z"},
        {"calculate": "35*(1.696*datum.a+1.0598*datum.n-2.7558)/(35.1568-0.9314*datum.a+1.4904*datum.n-1.9746*datum.z)", "as": "sx"},
        {"calculate": "35*(-0.5058*datum.a+0.8094*datum.n+3.6364*datum.z-1.6218)/(35.1568-0.9314*datum.a+1.4904*datum.n-1.9746*datum.z)", "as": "sy"}
      ],
      "mark": {"type": "text", "font": "DejaVu Sans", "fontSize": 9, "color": "black", "align": "center", "baseline": "middle", "dx": 12, "dy": 15},
      "encoding": {"text": {"field": "t", "type": "quantitative", "format": ".2f"}}
    },
    {
      "data": {"name": "ticks"},
      "transform": [
        {"filter": "datum.g=='z'"},
        {"calculate": "2", "as": "a"},
        {"calculate": "2", "as": "n"},
        {"calculate": "datum.t", "as": "z"},
        {"calculate": "35*(1.696*datum.a+1.0598*datum.n-2.7558)/(35.1568-0.9314*datum.a+1.4904*datum.n-1.9746*datum.z)", "as": "sx"},
        {"calculate": "35*(-0.5058*datum.a+0.8094*datum.n+3.6364*datum.z-1.6218)/(35.1568-0.9314*datum.a+1.4904*datum.n-1.9746*datum.z)", "as": "sy"}
      ],
      "mark": {"type": "text", "font": "DejaVu Sans", "fontSize": 9, "color": "black", "align": "center", "baseline": "middle", "dx": 17, "dy": 2},
      "encoding": {"text": {"field": "t", "type": "quantitative", "format": ".1f"}}
    },
    {
      "data": {"values": [{"label": "α", "a": 1, "n": 0, "z": 0}]},
      "transform": [
        {"calculate": "35*(1.696*datum.a+1.0598*datum.n-2.7558)/(35.1568-0.9314*datum.a+1.4904*datum.n-1.9746*datum.z)", "as": "sx"},
        {"calculate": "35*(-0.5058*datum.a+0.8094*datum.n+3.6364*datum.z-1.6218)/(35.1568-0.9314*datum.a+1.4904*datum.n-1.9746*datum.z)", "as": "sy"}
      ],
      "mark": {"type": "text", "font": "DejaVu Sans", "fontSize": 10, "fontStyle": "italic", "color": "black", "align": "center", "baseline": "middle", "dx": -7, "dy": 42.2, "angle": 18},
      "encoding": {"text": {"field": "label"}}
    },
    {
      "data": {"values": [{"label": "ν", "a": 2, "n": 1, "z": 0}]},
      "transform": [
        {"calculate": "35*(1.696*datum.a+1.0598*datum.n-2.7558)/(35.1568-0.9314*datum.a+1.4904*datum.n-1.9746*datum.z)", "as": "sx"},
        {"calculate": "35*(-0.5058*datum.a+0.8094*datum.n+3.6364*datum.z-1.6218)/(35.1568-0.9314*datum.a+1.4904*datum.n-1.9746*datum.z)", "as": "sy"}
      ],
      "mark": {"type": "text", "font": "DejaVu Sans", "fontSize": 10, "fontStyle": "italic", "color": "black", "align": "center", "baseline": "middle", "dx": 0.1, "dy": 43.2, "angle": 318},
      "encoding": {"text": {"field": "label"}}
    },
    {
      "data": {"values": [{"label": "min{W₁, W₂}", "a": 2, "n": 2, "z": 0.3625}]},
      "transform": [
        {"calculate": "35*(1.696*datum.a+1.0598*datum.n-2.7558)/(35.1568-0.9314*datum.a+1.4904*datum.n-1.9746*datum.z)", "as": "sx"},
        {"calculate": "35*(-0.5058*datum.a+0.8094*datum.n+3.6364*datum.z-1.6218)/(35.1568-0.9314*datum.a+1.4904*datum.n-1.9746*datum.z)", "as": "sy"}
      ],
      "mark": {"type": "text", "font": "DejaVu Sans", "fontSize": 10, "color": "black", "align": "center", "baseline": "middle", "dx": 4.7, "dy": 48.7, "angle": 270},
      "encoding": {"text": {"field": "label"}}
    }
  ],
  "resolve": {"scale": {"fill": "independent", "stroke": "independent"}},
  "config": {
    "view": {"stroke": null},
    "font": "DejaVu Sans"
  }
}
